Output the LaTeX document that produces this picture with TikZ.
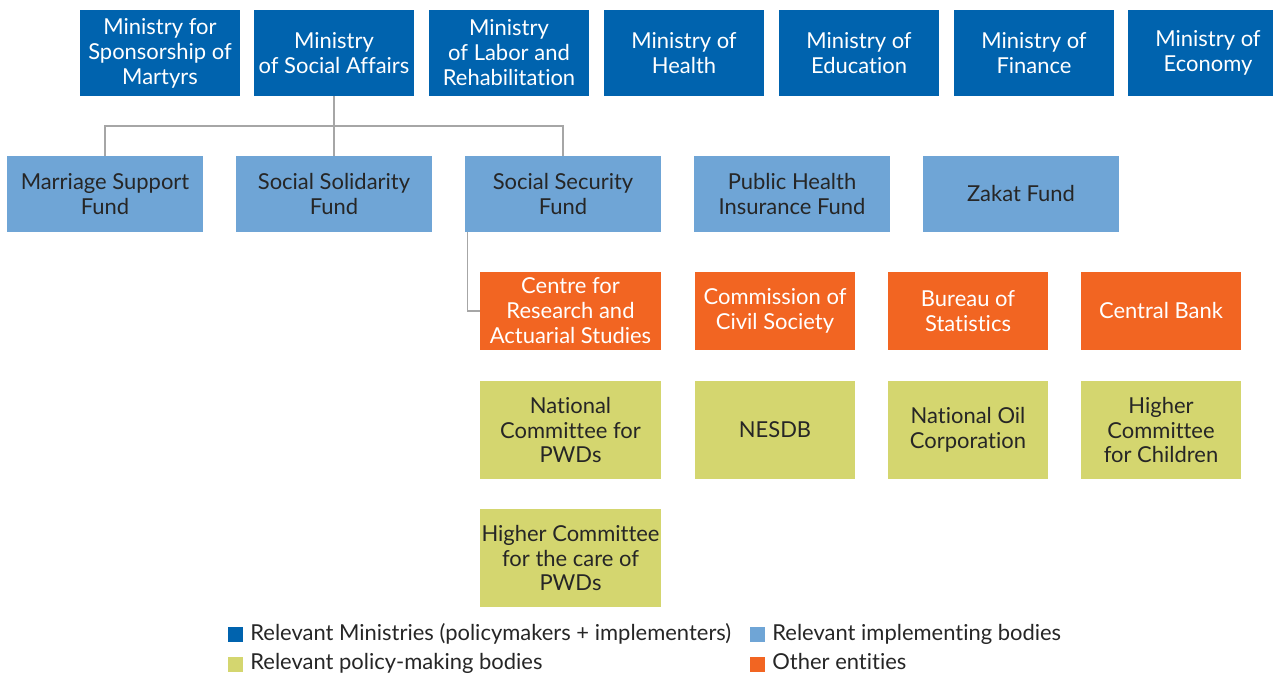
\documentclass[tikz,border=0pt]{standalone}
\usepackage{fontspec}
\setmainfont{Lato}[Ligatures=NoCommon]
\definecolor{dblue}{HTML}{0063AE}
\definecolor{lblue}{HTML}{6FA5D6}
\definecolor{orng}{HTML}{F26522}
\definecolor{ygrn}{HTML}{D4D66F}
\definecolor{conng}{HTML}{A6A6A6}
\definecolor{dtext}{HTML}{262626}
\newcommand{\bx}[7]{\node[#6, minimum width={(#4-#2)*0.02cm}, minimum height={(#5-#3)*0.02cm}] (#1) at ({(#2+#4)/2},{(#3+#5)/2}) {#7};}
\tikzset{
  box/.style={inner sep=0pt, align=center, font=\fontsize{12.5}{14.2}\selectfont},
  ministry/.style={box, fill=dblue, text=white},
  impl/.style={box, fill=lblue, text=dtext},
  other/.style={box, fill=orng, text=white},
  policy/.style={box, fill=ygrn, text=dtext},
  conn/.style={draw=conng, line width=0.85pt},
  legsq/.style={inner sep=0pt, minimum size=0.3cm},
  legtxt/.style={anchor=base west, inner sep=0pt, text=dtext, font=\fontsize{12.5}{14.2}\selectfont}
}
\begin{document}
\begin{tikzpicture}[x=0.02cm,y=-0.02cm]
\useasboundingbox (0,0) rectangle (1273,675);
% Ministries
\bx{msm}{80}{10}{240}{96}{ministry}{Ministry for\\Sponsorship of\\Martyrs}
\bx{msa}{254}{10}{414}{96}{ministry}{Ministry\\of Social Affairs}
\bx{mlr}{429}{10}{589}{96}{ministry}{Ministry\\of Labor and\\Rehabilitation}
\bx{mh}{604}{10}{764}{96}{ministry}{Ministry of\\Health}
\bx{med}{779}{10}{939}{96}{ministry}{Ministry of\\Education}
\bx{mf}{954}{10}{1114}{96}{ministry}{Ministry of\\Finance}
\bx{mec}{1128}{10}{1288}{96}{ministry}{Ministry of\\Economy}
% Implementing bodies
\bx{msf}{7}{156}{203}{232}{impl}{Marriage Support\\Fund}
\bx{ssol}{236}{156}{432}{232}{impl}{Social Solidarity\\Fund}
\bx{ssec}{465}{156}{661}{232}{impl}{Social Security\\Fund}
\bx{phi}{694}{156}{890}{232}{impl}{Public Health\\Insurance Fund}
\bx{zak}{923}{156}{1119}{232}{impl}{Zakat Fund}
% Other entities
\bx{cras}{480}{272}{661}{350}{other}{Centre for\\Research and\\Actuarial Studies}
\bx{ccs}{695}{272}{855}{350}{other}{Commission of\\Civil Society}
\bx{bos}{888}{272}{1048}{350}{other}{Bureau of\\Statistics}
\bx{cb}{1081}{272}{1241}{350}{other}{Central Bank}
% Policy-making bodies
\bx{ncp}{480}{381}{661}{479}{policy}{National\\Committee for\\PWDs}
\bx{nes}{695}{381}{855}{479}{policy}{NESDB}
\bx{noc}{888}{381}{1048}{479}{policy}{National Oil\\Corporation}
\bx{hcc}{1081}{381}{1241}{479}{policy}{Higher\\Committee\\for Children}
\bx{hcp}{480}{509}{661}{607}{policy}{Higher Committee\\for the care of\\PWDs}
% Connectors
\coordinate (bus) at (334,126);
\draw[conn] (msa.south) -- (bus);
\draw[conn] (msf.north) |- (bus) -| (ssec.north);
\draw[conn] (ssol.north) -- (bus);
\draw[conn] ([xshift=0.06cm]ssec.south west) |- (cras.west);
% Legend
\node[legsq, fill=dblue] (l1) at (235.5,634.5) {};
\node[legtxt] (t1) at (250,640) {Relevant Ministries (policymakers + implementers)};
\node[legsq, fill=lblue] (l2) at (757.5,634.5) {};
\node[legtxt] (t2) at (772,640) {Relevant implementing bodies};
\node[legsq, fill=ygrn] (l3) at (235.5,664) {};
\node[legtxt] (t3) at (250,669.5) {Relevant policy-making bodies};
\node[legsq, fill=orng] (l4) at (757.5,664) {};
\node[legtxt] (t4) at (772,669.5) {Other entities};
\end{tikzpicture}
\end{document}
